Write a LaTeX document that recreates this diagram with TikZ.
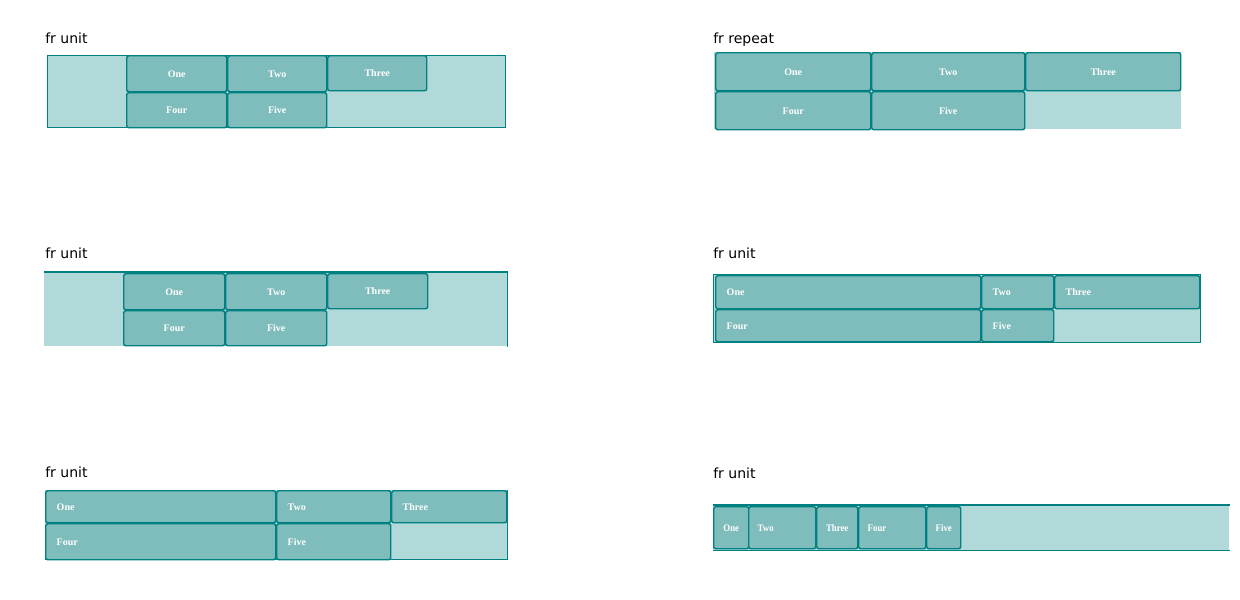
\documentclass[tikz,border=0pt]{standalone}
\usepackage{fontspec}
\newfontfamily\ttlfont{DejaVu Sans}
\newfontfamily\labfont{Liberation Serif}
\newfontfamily\labnarrow{Liberation Serif}[FakeStretch=0.88]
\definecolor{tealc}{HTML}{008080}
\definecolor{itemfill}{HTML}{7FBDBC}
\definecolor{boxfill}{HTML}{B2D9D9}
\tikzset{
  gitem/.style={draw=tealc, fill=itemfill, line width=1.1pt, rounded corners=1.6pt,
    inner sep=0pt, text=white, anchor=north west, text height=5.2pt, text depth=0pt,
    font=\labfont\bfseries\fontsize{7.5}{9}\selectfont},
  narrowlab/.style={font=\labnarrow\bfseries\fontsize{7.5}{9}\selectfont},
  cbox/.style={fill=boxfill, inner sep=0pt, anchor=north west},
  cedge/.style={draw=tealc, line width=0.6pt},
  cedgethick/.style={draw=tealc, line width=1.3pt},
  ttl/.style={anchor=base west, inner sep=0pt, font=\ttlfont\fontsize{10.5}{12}\selectfont}
}
% centred item: [style] name, x1, y1, x2, y2, text
\newcommand\gcitem[7][]{%
  \pgfmathsetmacro\gw{(#5-#3)*0.75}%
  \pgfmathsetmacro\gh{(#6-#4)*0.75}%
  \node[gitem,#1, minimum width=\gw pt, minimum height=\gh pt] (#2) at (#3,#4) {#7};}
% left-aligned item: [style] name, x1, y1, x2, y2, padding(px), text
\newcommand\glitem[8][]{%
  \pgfmathsetmacro\gw{(#5-#3-2*#7)*0.75}%
  \pgfmathsetmacro\gp{#7*0.75}%
  \pgfmathsetmacro\gh{(#6-#4)*0.75}%
  \node[gitem,#1, text width=\gw pt, align=left, inner xsep=\gp pt, minimum height=\gh pt] (#2) at (#3,#4) {#8};}
% container: name, x1, y1, x2, y2
\newcommand\gbox[5]{%
  \pgfmathsetmacro\gw{(#4-#2)*0.75}%
  \pgfmathsetmacro\gh{(#5-#3)*0.75}%
  \node[cbox, minimum width=\gw pt, minimum height=\gh pt] (#1) at (#2,#3) {};}
\begin{document}
\begin{tikzpicture}[x=0.75pt,y=-0.75pt]
\useasboundingbox[fill=white] (0,0) rectangle (1240,600);

% ---------- panel 1 ----------
\node[ttl] (t1) at (45,43) {fr unit};
\gbox{c1}{47}{55}{505}{127}
\draw[cedge] (c1.north west) rectangle (c1.south east);
\gcitem{p1a}{126}{55}{226}{91}{One}
\gcitem{p1b}{227}{55}{326}{91}{Two}
\gcitem{p1c}{327}{55}{426}{90}{Three}
\gcitem{p1d}{126}{92}{226}{127}{Four}
\gcitem{p1e}{227}{92}{326}{127}{Five}

% ---------- panel 2 ----------
\node[ttl] (t2) at (713,43) {fr repeat};
\gbox{c2}{714}{52}{1181}{129}
\gcitem{p2a}{715}{52}{870}{90}{One}
\gcitem{p2b}{871}{52}{1024}{90}{Two}
\gcitem{p2c}{1025}{52}{1180}{90}{Three}
\gcitem{p2d}{715}{91}{870}{129}{Four}
\gcitem{p2e}{871}{91}{1024}{129}{Five}

% ---------- panel 3 ----------
\node[ttl] (t3) at (45,258) {fr unit};
\gbox{c3}{44}{272}{507}{346}
\draw[cedgethick] (c3.north west) -- (c3.north east);
\draw[cedge] (c3.north east) -- (c3.south east);
\gcitem{p3a}{123}{273}{224}{309}{One}
\gcitem{p3b}{225}{273}{326}{309}{Two}
\gcitem{p3c}{327}{273}{427}{308}{Three}
\gcitem{p3d}{123}{310}{224}{345}{Four}
\gcitem{p3e}{225}{310}{326}{345}{Five}

% ---------- panel 4 ----------
\node[ttl] (t4) at (713,258) {fr unit};
\gbox{c4}{713}{274}{1200}{342}
\draw[cedge] (c4.north west) rectangle (c4.south east);
\glitem{p4a}{715}{275}{980}{308}{11}{One}
\glitem{p4b}{981}{275}{1053}{308}{11}{Two}
\glitem{p4c}{1054}{275}{1199}{308}{11}{Three}
\glitem{p4d}{715}{309}{980}{341}{11}{Four}
\glitem{p4e}{981}{309}{1053}{341}{11}{Five}

% ---------- panel 5 ----------
\node[ttl] (t5) at (45,477) {fr unit};
\gbox{c5}{45}{490}{507}{559}
\draw[cedge] (c5.north east) -- (c5.south east);
\draw[cedgethick] (c5.south west) -- (c5.south east);
\glitem{p5a}{45}{490}{275}{522}{11}{One}
\glitem{p5b}{276}{490}{390}{522}{11}{Two}
\glitem{p5c}{391}{490}{506}{522}{11}{Three}
\glitem{p5d}{45}{523}{275}{559}{11}{Four}
\glitem{p5e}{276}{523}{390}{559}{11}{Five}

% ---------- panel 6 ----------
\node[ttl] (t6) at (713,478) {fr unit};
\gbox{c6}{713}{505}{1229}{550}
\draw[cedgethick] (c6.north west) -- (c6.north east);
\draw[cedgethick] (c6.south west) -- (c6.south east);
\gcitem[narrowlab]{p6a}{713}{506}{748}{548}{One}
\glitem[narrowlab]{p6b}{748}{506}{815}{548}{9}{Two}
\gcitem[narrowlab]{p6c}{816}{506}{857}{548}{Three}
\glitem[narrowlab]{p6d}{858}{506}{925}{548}{9}{Four}
\gcitem[narrowlab]{p6e}{926}{506}{960}{548}{Five}
\end{tikzpicture}
\end{document}
